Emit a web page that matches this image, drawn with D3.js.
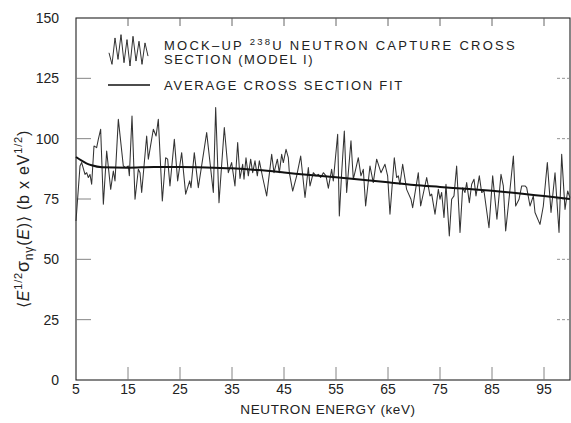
<!DOCTYPE html>
<html><head><meta charset="utf-8">
<script src="https://cdn.jsdelivr.net/npm/d3@7"></script>
<style>
html,body{margin:0;padding:0;background:#fff;}
svg{display:block;}
text{font-family:"Liberation Sans","Helvetica",Arial,sans-serif;fill:#222;}
</style></head>
<body>
<script>
// ---- data ----
const energies = [5.0,5.77,6.09,6.73,7.05,7.37,7.69,8.01,8.46,8.97,9.29,9.74,10.26,10.9,11.67,12.18,12.5,13.14,14.1,14.6,15.06,15.26,15.77,16.35,16.99,17.31,17.63,18.59,18.91,19.87,20.4,20.83,
21.6,22.24,22.63,23.07,23.91,24.55,25.32,26.09,26.86,27.11,27.75,28.52,30.13,31.41,31.86,32.5,33.52,34.29,34.93,35.57,36.09,36.54,37.05,37.31,37.69,38.14,38.59,38.98,39.42,39.87,40.26,40.9,41.67,42.63,43.08,43.72,44.1,44.55,44.87,45.39,45.83,46.03,46.67,47.44,48.21,49.04,49.68,50.0,50.64,51.16,51.6,52.05,52.57,53.08,53.53,
54.16,54.48,55.32,55.64,56.09,56.6,57.05,57.88,58.33,58.78,59.29,59.8,60.25,60.7,61.53,62.17,62.82,63.65,64.42,64.93,65.38,66.21,66.66,66.98,67.3,67.82,68.58,69.42,69.74,70.83,71.28,72.44,73.08,73.4,74.04,74.68,75.0,75.32,75.77,76.15,76.79,77.24,77.69,78.2,78.85,79.36,79.81,80.13,80.64,81.09,81.54,81.92,82.56,83.01,83.46,84.42,85.13,85.95,86.73,87.18,87.63,88.27,89.11,89.55,90.2,90.71,91.35,91.67,92.31,92.95,93.27,94.23,94.87,95.64,96.35,97.12,97.89,98.4,99.04,99.55,100.0];
const crossSection = [65.9,88.7,90.1,85.2,85.9,83.9,85.2,81.1,97.0,96.3,99.7,103.9,72.8,94.9,79.0,86.6,82.5,108.0,88.7,88.0,88.7,84.6,109.4,74.9,87.3,85.9,77.7,101.1,91.5,103.9,101.1,108.0,
74.2,92.1,91.5,80.4,99.7,82.5,94.2,77.0,82.5,79.7,94.2,79.7,102.5,77.7,112.9,73.5,104.6,85.9,90.1,80.4,98.4,83.5,89.4,83.2,92.1,84.6,91.5,85.9,90.8,84.6,90.8,83.9,76.3,93.5,85.9,91.5,85.9,93.5,90.1,95.6,92.1,85.9,78.3,84.6,92.8,75.6,88.0,80.4,85.9,84.6,85.2,83.9,85.9,84.6,79.5,
87.3,82.5,101.8,68.0,85.9,103.2,77.7,99.1,83.2,87.3,92.1,84.6,87.3,72.1,88.7,81.8,91.5,85.9,89.4,84.6,68.7,92.1,83.9,84.6,81.1,89.4,79.0,74.9,71.4,85.9,72.1,83.9,76.3,77.0,68.7,79.0,74.9,77.7,67.3,81.1,59.7,74.9,76.3,88.7,61.1,79.7,77.7,81.8,73.5,81.1,83.2,76.3,84.6,77.7,78.3,63.1,84.6,66.6,85.2,80.4,61.8,74.9,92.8,72.1,74.9,80.4,80.4,79.7,72.1,76.3,69.4,64.5,72.1,90.1,69.4,85.9,61.1,93.5,70.7,78.3,75.5];
const fitEnergies = [5,6,7,8,10,15,20,25,30,35,40,45,50,55,60,65,70,75,80,85,90,95,100];
const fitValues   = [92.4,91.0,89.8,89.0,88.2,88.0,88.3,88.3,88.1,87.7,87.0,86.0,84.9,84.0,83.0,81.9,80.8,80.0,79.2,78.4,77.4,76.2,75.0];
const xTickValues = [5,15,25,35,45,55,65,75,85,95];
const yTickValues = [0,25,50,75,100,125,150];
const legendGlyph = [0.6,0.95,0.15,0.8,0.05,0.9,0.2,1.0,0.1,0.85,0.25,0.95,0.3,0.7];
const legendLabels = ["MOCK\u2013UP ", "238", "U NEUTRON CAPTURE CROSS", "SECTION (MODEL I)", "AVERAGE CROSS SECTION FIT"];

// ---- layout ----
const W = 571, H = 423;
const m = {left:76, right:570, top:18, bottom:380};
const svg = d3.select("body").append("svg").attr("width",W).attr("height",H);
const x = d3.scaleLinear().domain([5,100]).range([m.left,m.right]);
const y = d3.scaleLinear().domain([0,150]).range([m.bottom,m.top]);

// frame
svg.append("rect").attr("x",m.left).attr("y",m.top).attr("width",m.right-m.left).attr("height",m.bottom-m.top)
  .attr("fill","none").attr("stroke","#222").attr("stroke-width",1.1);

// ticks
const inner = xTickValues.filter(d=>d>5);
svg.append("g").selectAll("line").data(inner).join("line")
  .attr("x1",d=>x(d)).attr("x2",d=>x(d)).attr("y1",m.bottom).attr("y2",m.bottom-13)
  .attr("stroke","#777").attr("stroke-width",0.9);
svg.append("g").selectAll("line").data(inner).join("line")
  .attr("x1",d=>x(d)).attr("x2",d=>x(d)).attr("y1",m.top).attr("y2",m.top+8)
  .attr("stroke","#555").attr("stroke-width",0.9);
const yin = yTickValues.filter(d=>d>0&&d<150);
svg.append("g").selectAll("line").data(yin).join("line")
  .attr("x1",m.left).attr("x2",m.left+15).attr("y1",d=>y(d)).attr("y2",d=>y(d))
  .attr("stroke","#777").attr("stroke-width",0.9);
svg.append("g").selectAll("line").data(yin).join("line")
  .attr("x1",m.right).attr("x2",m.right-13).attr("y1",d=>y(d)).attr("y2",d=>y(d))
  .attr("stroke","#888").attr("stroke-width",0.9).attr("stroke-dasharray","3,2");

// tick labels
svg.append("g").selectAll("text").data(xTickValues).join("text")
  .attr("x",d=>x(d)).attr("y",m.bottom+14).attr("text-anchor","middle").attr("font-size",14)
  .text(d=>d);
svg.append("g").selectAll("text").data(yTickValues).join("text")
  .attr("x",m.left-17).attr("y",d=>y(d)+5).attr("text-anchor","end").attr("font-size",14)
  .text(d=>d);

// axis titles
svg.append("text").attr("x",328).attr("y",414).attr("text-anchor","middle").attr("font-size",13.5)
  .attr("letter-spacing",0.6).text("NEUTRON ENERGY (keV)");
const yt = svg.append("text").attr("transform","translate(29,219) rotate(-90)").attr("text-anchor","middle")
  .attr("font-size",16).attr("letter-spacing",0.8);
yt.append("tspan").text("\u27E8");
yt.append("tspan").attr("font-style","italic").text("E");
yt.append("tspan").attr("font-size",11).attr("dy",-7).text("1/2");
yt.append("tspan").attr("dy",7).attr("font-size",18).text("\u03C3");
yt.append("tspan").attr("font-size",12).attr("dy",4).text("n\u03B3");
yt.append("tspan").attr("dy",-4).text("(");
yt.append("tspan").attr("font-style","italic").text("E");
yt.append("tspan").text(")\u27E9   (b x eV");
yt.append("tspan").attr("font-size",11).attr("dy",-7).text("1/2");
yt.append("tspan").attr("dy",7).text(")");

// data lines
const pts = energies.map((e,i)=>[e,crossSection[i]]);
svg.append("path").datum(pts)
  .attr("d",d3.line().x(d=>x(d[0])).y(d=>y(d[1])))
  .attr("fill","none").attr("stroke","#333").attr("stroke-width",1.05).attr("stroke-linejoin","round");
const fit = fitEnergies.map((e,i)=>[e,fitValues[i]]);
svg.append("path").datum(fit)
  .attr("d",d3.line().curve(d3.curveMonotoneX).x(d=>x(d[0])).y(d=>y(d[1])))
  .attr("fill","none").attr("stroke","#111").attr("stroke-width",2);

// legend
const gx = d3.scaleLinear().domain([0,legendGlyph.length-1]).range([109,148]);
const gy = d3.scaleLinear().domain([0,1]).range([33,66]);
svg.append("path").datum(legendGlyph)
  .attr("d",d3.line().x((d,i)=>gx(i)).y(d=>gy(d)))
  .attr("fill","none").attr("stroke","#333").attr("stroke-width",1);
svg.append("line").attr("x1",108).attr("x2",150).attr("y1",85).attr("y2",85).attr("stroke","#111").attr("stroke-width",1.6);
const l1 = svg.append("text").attr("x",164).attr("y",50).attr("font-size",13).attr("letter-spacing",2.25);
l1.append("tspan").text(legendLabels[0]);
l1.append("tspan").attr("font-size",9.5).attr("dy",-5).text(legendLabels[1]);
l1.append("tspan").attr("dy",5).text(legendLabels[2]);
svg.append("text").attr("x",164).attr("y",64).attr("font-size",13).attr("letter-spacing",1.6).text(legendLabels[3]);
svg.append("text").attr("x",164).attr("y",90).attr("font-size",13).attr("letter-spacing",1.75).text(legendLabels[4]);
</script>
</body></html>
